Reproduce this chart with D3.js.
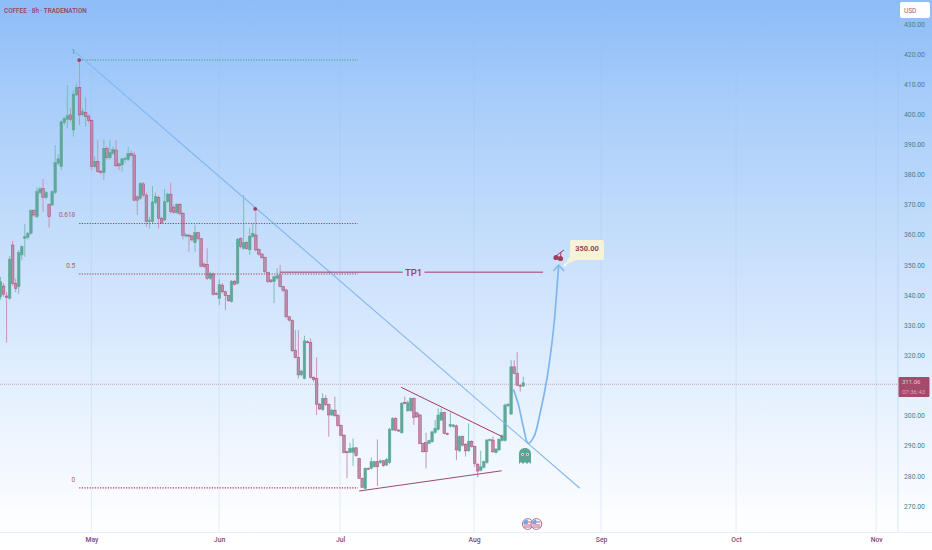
<!DOCTYPE html>
<html><head><meta charset="utf-8">
<script src="https://cdn.jsdelivr.net/npm/d3@7/dist/d3.min.js"></script>
<style>html,body{margin:0;padding:0;background:#fff}svg{display:block}text{font-family:Roboto,"Liberation Sans",sans-serif}</style>
</head><body><div id="chart"></div>
<script>
const opens=[
339.5,343,339.7,338.9,356.6,343.9,342.8,353.3,358.8,359.2,
360.5,368,366,374,375.4,372.4,370.1,369.9,374,383.7,
382.6,397.2,398.3,399.8,394.8,406.4,408.9,399.8,400.6,399.4,
397.9,382.6,384.4,381.1,380.6,388.7,385.6,387,388.1,383.5,
383.2,385,385,387,386.5,372.6,372.1,376.9,373.2,364.4,
364.4,370.7,372.4,365.5,364.9,371,373.5,369.1,367.3,370.1,
367.1,359.6,359.9,359.6,357.4,360.7,358.7,350.3,350.2,345.5,
347,340.5,338.9,343.3,341.1,339.8,337.8,344.6,343.9,358.8,
355.5,357.4,355,359.4,359.9,355.2,353.6,352.5,347.5,345,
344.5,345.6,346.7,342.8,341.7,332.8,331.5,321.7,319.3,313.5,
312.3,324.5,324.2,312.7,312.3,303.8,302,305.7,303.7,300.2,
301.8,300,296.8,293.5,288,287.8,287.8,289.3,285.8,279.2,
275.8,282.5,282.5,283,284.7,284.4,285,283.6,284.4,295.2,
299,295.2,294.3,304.4,301.6,301.6,305.7,300.9,300.2,290.8,
291,290.8,291.3,294.4,295.4,298.5,301,294.1,296.5,296.3,
296.6,288.3,293,290.5,288.3,291.5,289.7,283.9,281.9,282.8,
284.4,291.7,291.9,287.7,288.6,291.7,291.7,303.2,300.5,316.2,
314,310.1,309.8];
const closes=[
344.4,340.3,339.2,351.9,343.9,342.2,354.1,356.1,359.4,360.5,
368,366.6,374.3,375.2,372.4,374,366,374.3,384,385.2,
397.5,398.6,399.5,398.3,406.7,408.9,399.8,400.9,399.2,397.9,
382.6,384.4,381,380.8,388.7,385.6,387.3,388.3,382.9,382.9,
385.2,385.4,387,386.4,371.5,371.5,377.1,373.2,364.4,364.9,
370.9,372.7,365.5,364,371.1,373.5,367.7,367.5,370.1,367.1,
359.8,360,359.6,358.3,360.7,358.7,349.6,349.4,345.6,347.2,
340.2,340.2,343.5,341.1,339.8,338.1,344.6,343.6,358.5,356.1,
357.4,355.5,359.6,360.5,355,353.6,352.5,347.8,344.5,344.5,
346.1,346.4,342.8,341.5,332.8,331.7,321.5,319.3,313.5,314.8,
324.8,324.2,312.7,312,303.8,302.2,305.7,303.7,300.2,301.8,
300,296.8,293.5,287.8,287.8,289.1,289.3,286.7,279.2,276.2,
282.5,282.3,284.7,284.7,283,285,283.4,285.5,295.5,299,
295.2,294.9,304.1,304.1,304.3,305.7,299.4,299.6,290.8,288,
288,291.7,294.6,295.8,300.2,301,294.1,293.8,297.1,296.9,
288.6,293,290.2,288.3,291.5,289.7,284.1,281.6,283,284.7,
291.9,292.1,288,288.9,292.1,293.3,303.5,303.8,316.2,314,
310.1,309.8,310.9];
const highs=[
346,344,341,353,358,345.5,355,356.5,363.6,361,
368.5,368.5,375.8,376,378.5,374.5,370.5,374.8,389.8,386.7,
398,399,409.7,402,408,410.3,418,402,405.6,400,
398.3,386,391.5,381.5,391.7,389.5,391.5,389.3,391.5,384,
385.5,386,389.2,388,387.6,373,377.5,377.5,374,366,
376.2,374,373,366,375.2,374,377.4,370,370.5,370.5,
367.5,360.5,360.2,360,363.3,361,359,350.8,355.5,347.8,
347.5,341,345.2,344,341.5,340,345,345,359,359.2,
373.2,358,362.2,363.8,367.7,355.5,354,352.8,347.8,345.3,
346.5,348.9,350,343,342,333,332,328.4,328.4,315.2,
326.5,325,325.6,313,319.3,304.2,307.4,306.8,304,302.3,
306.3,300.5,297,293.8,288.3,291,292.4,289.6,286,279.5,
282.8,282.8,286.1,285,292.1,285.4,285.3,285.9,296,299.5,
299.5,295.5,304.5,306.3,305,306,306,301.3,300.6,291,
294.3,292,295,298.5,302.4,302.4,301.4,294.4,301,297.2,
297,293.4,293.4,290.8,297.4,291.8,290,284.2,288.3,285,
292.2,292.4,293,289.2,292.5,293.8,304,304.2,318.4,318.4,
321,310.4,312.9];
const lows=[
338.5,339.5,324.2,338.5,343,341,340.4,351.5,352.7,358.5,
360,366,365.5,373.5,367.7,371.8,362.4,369.5,373.5,383,
381.5,396.5,395.3,397.5,392.6,406,396.4,399.3,395.9,397,
381.5,382,380.5,380,378.2,385,385,386.5,382.5,381.5,
381,384,384.5,386,371,366.6,371.5,372.5,362.7,362.1,
363.9,370,362.1,363.5,364.5,370.5,367,367,367,366.5,
358.5,359,354.4,357.8,354.4,358.2,349.2,349,345,345,
339.8,340,336.7,340.5,335,337.8,337.5,343.2,343.5,355.5,
355,355,353.3,359,354.5,353,352,347.3,344,344,
337.3,345.2,342.5,341,332.3,331.2,321.2,319,312.3,313,
312,324,312.3,311.2,300.2,301.8,301.5,303.2,293,299.8,
299.5,296.3,293.2,287.5,279.2,287.5,283.3,286.3,279,276,
275.5,282,282.2,282.8,276.6,284,283,283.3,284,295,
294.8,294.5,294,303.8,301.2,301.3,296.9,299.2,290.5,287.7,
282.5,290.5,291,294,295,298.2,293.8,293.5,296,296,
285.2,288,289.8,286.4,288,289.4,283,279.5,281.5,282.5,
284,291.4,287.6,287.4,288.3,291.4,291.4,303,300.2,313.7,
309.8,307.9,309.5];

const priceTicks=[430,420,410,400,390,380,370,360,350,340,330,320,300,290,280,270];
const monthLabels=["May","Jun","Jul","Aug","Sep","Oct","Nov"];
const monthBars=[29.9,71.9,111.7,155.8,197.6,242,288.1];
const fibLevels=[1,0.618,0.5,0];
const fibLabels=["1","0.618","0.5","0"];
const fibHigh=418, fibLow=276, fibStartBar=25.9, fibEndBar=117.6;
const trendLine=[[23.5,421.6],[190.6,275.9]];
const triangleUpper=[[131.8,309.4],[165.1,293]];
const triangleLower=[[118,275],[164.9,281.7]];
const tp1Left=[[91.9,347.6],[132.3,347.6]];
const tp1Right=[[139.5,347.6],[178.5,347.6]];
const forecastCurve=[[168.7,308.7],[170.3,304],[172,296.3],[173.6,290.8],[175.5,293],[177.5,300.7],[179.7,311.8],[181.9,328.4],[183.6,349.6]];
const forecastArrow=[[181.9,348],[183.6,350],[185.4,348]];
const pivotDots=[[25.9,418],[83.8,368.6]];
const lastPrice=310.4;

const W=932,H=550,axisX=898,plotBottom=532.5;
const x=d3.scaleLinear().domain([0,172]).range([0.5,523.3]);
const y=d3.scaleLinear().domain([420,270]).range([54,506]);
const svg=d3.select("#chart").append("svg").attr("width",W).attr("height",H);

const grad=svg.append("defs").append("linearGradient").attr("id","bg").attr("x1",0).attr("y1",0).attr("x2",0).attr("y2",1);
[[0,"#8dbcf8"],[0.2,"#a9cefa"],[0.5,"#cbe1fc"],[0.75,"#e6f1fe"],[1,"#ffffff"]].forEach(s=>grad.append("stop").attr("offset",s[0]).attr("stop-color",s[1]));
svg.append("rect").attr("width",W).attr("height",plotBottom).attr("fill","url(#bg)");

// month grid
svg.append("g").selectAll("line").data(monthBars).join("line")
 .attr("x1",d=>x(d)).attr("x2",d=>x(d)).attr("y1",0).attr("y2",plotBottom)
 .attr("stroke","#9cc0ec").attr("stroke-opacity",.25).attr("stroke-width",1);
svg.append("line").attr("x1",axisX).attr("x2",axisX).attr("y1",0).attr("y2",plotBottom).attr("stroke","#9cc0ec").attr("stroke-opacity",.4);
svg.append("line").attr("x1",0).attr("x2",W).attr("y1",plotBottom).attr("y2",plotBottom).attr("stroke","#e8f0fa");

// axes
const xAxis=d3.axisBottom(x).tickValues(monthBars).tickFormat((d,i)=>monthLabels[i]).tickSize(0).tickPadding(5);
const gx=svg.append("g").attr("transform",`translate(0,${plotBottom})`).call(xAxis);
gx.select(".domain").remove();
gx.selectAll("text").attr("font-size",6.8).attr("font-weight",500).attr("fill","#7e4a72");
const yAxis=d3.axisRight(y).tickValues(priceTicks).tickFormat(d3.format(".2f")).tickSize(0).tickPadding(6);
const gy=svg.append("g").attr("transform",`translate(${axisX},0)`).call(yAxis);
gy.select(".domain").remove();
gy.selectAll("text").attr("font-size",6.8).attr("fill","#4a7f88");

// last price line
svg.append("line").attr("x1",0).attr("x2",axisX).attr("y1",y(lastPrice)).attr("y2",y(lastPrice))
 .attr("stroke","#a8708c").attr("stroke-opacity",.75).attr("stroke-width",.8).attr("stroke-dasharray","1 1");

// candles
const candles=d3.range(opens.length);
const g=svg.append("g");
g.selectAll("line.w").data(candles).join("line").attr("class","w")
 .attr("x1",i=>x(i)).attr("x2",i=>x(i)).attr("y1",i=>y(highs[i])).attr("y2",i=>y(lows[i]))
 .attr("stroke",i=>closes[i]>=opens[i]?"#7cbdb6":"#c795b4").attr("stroke-width",1);
g.selectAll("rect").data(candles).join("rect")
 .attr("x",i=>x(i)-1.3).attr("width",2.6)
 .attr("y",i=>y(Math.max(opens[i],closes[i])))
 .attr("height",i=>Math.max(1,Math.abs(y(opens[i])-y(closes[i]))))
 .attr("fill",i=>closes[i]>=opens[i]?"#5fa898":"#bd8dae")
 .attr("stroke",i=>closes[i]>=opens[i]?"#5fa898":"#aa4870").attr("stroke-width",.5);

const line=d3.line().x(d=>x(d[0])).y(d=>y(d[1]));

// fibonacci
fibLevels.forEach((lv,i)=>{
 const p=fibLow+(fibHigh-fibLow)*lv, yy=y(p);
 svg.append("line").attr("x1",x(fibStartBar)).attr("x2",x(fibEndBar)).attr("y1",yy).attr("y2",yy)
  .attr("stroke",lv===1?"#4f9c78":"#a83a62").attr("stroke-width",1.1).attr("stroke-dasharray","1.2 1.4");
 svg.append("text").attr("x",x(fibStartBar)-4).attr("y",yy-6).attr("text-anchor","end")
  .attr("font-size",6.5).attr("fill",lv===1?"#4f8a7c":"#a0607e").text(fibLabels[i]);
});

// lines
svg.append("path").attr("d",line(trendLine)).attr("fill","none").attr("stroke","#7fb6f0").attr("stroke-width",1.1);
svg.append("path").attr("d",line(triangleUpper)).attr("fill","none").attr("stroke","#a33a62").attr("stroke-width",1);
svg.append("path").attr("d",line(triangleLower)).attr("fill","none").attr("stroke","#a04a78").attr("stroke-width",1.1);
[tp1Left,tp1Right].forEach(s=>svg.append("path").attr("d",line(s)).attr("fill","none").attr("stroke","#a33a62").attr("stroke-width",1));
svg.append("text").attr("x",(x(tp1Left[1][0])+x(tp1Right[0][0]))/2).attr("y",y(347.6)+3.5).attr("text-anchor","middle")
 .attr("font-size",9.5).attr("font-weight",500).attr("fill","#a33a62").text("TP1");
svg.append("path").attr("d",line.curve(d3.curveCatmullRom)(forecastCurve)).attr("fill","none").attr("stroke","#7fb6f0").attr("stroke-width",1.7);
line.curve(d3.curveLinear);
svg.append("path").attr("d",line(forecastArrow)).attr("fill","none").attr("stroke","#7fb6f0").attr("stroke-width",1.4);

// pivots
svg.selectAll("circle.p").data(pivotDots).join("circle").attr("class","p")
 .attr("cx",d=>x(d[0])).attr("cy",d=>y(d[1])).attr("r",1.9).attr("fill","#a83a5c");

// cherry
const ch=svg.append("g").attr("fill","#a83a5c");
ch.append("circle").attr("cx",556).attr("cy",257.5).attr("r",2.6);
ch.append("circle").attr("cx",560.5).attr("cy",258.5).attr("r",2.6);
ch.append("path").attr("d","M556 256L561 252L564 250M560.5 257L561 252").attr("stroke","#a83a5c").attr("stroke-width",1).attr("fill","none");

// callout
svg.append("path").attr("d","M572 240H602a2 2 0 0 1 2 2V258a2 2 0 0 1-2 2H576L565 265L570 256V242a2 2 0 0 1 2-2Z").attr("fill","#f7f3d9");
svg.append("circle").attr("cx",565).attr("cy",265).attr("r",1.4).attr("fill","#ffffff");
svg.append("text").attr("x",587).attr("y",250.5).attr("text-anchor","middle").attr("font-size",7.5).attr("font-weight",700).attr("fill","#a33a62").text("350.00");

// ghost
const gh=svg.append("g").attr("transform","translate(519,448)");
gh.append("path").attr("d","M0 6C0 2 3 0 6 0S12 2 12 6V16L10 14L8 16L6 14L4 16L2 14L0 16Z").attr("fill","#5aa595");
[[3.5,6.5],[8.5,6.5]].forEach(e=>{gh.append("circle").attr("cx",e[0]).attr("cy",e[1]).attr("r",1.4).attr("fill","#f3e6ee");gh.append("circle").attr("cx",e[0]).attr("cy",e[1]).attr("r",.7).attr("fill","#a83a5c");});

// earnings icons
const fl=svg.append("g");
[[527.8,524],[536.4,524]].forEach(c=>{
 fl.append("circle").attr("cx",c[0]).attr("cy",c[1]).attr("r",5.4).attr("fill","#fff").attr("stroke","#b06f95").attr("stroke-width",1);
 [-2,1,3].forEach(o=>fl.append("line").attr("x1",c[0]-4).attr("x2",c[0]+4).attr("y1",c[1]+o).attr("y2",c[1]+o).attr("stroke","#b0506f").attr("stroke-width",.9));
 fl.append("path").attr("d",`M${c[0]-4.5} ${c[1]}a4.5 4.5 0 0 1 4.5-4.5V${c[1]}Z`).attr("fill","#6ea6ea");
});

// title
svg.append("text").attr("x",4).attr("y",12.5).attr("font-size",6.4).attr("font-weight",500).attr("fill","#a33a5c").text("COFFEE · 8h · TRADENATION");

// USD
svg.append("rect").attr("x",900).attr("y",2).attr("width",30).attr("height",16).attr("rx",2).attr("fill","#fff");
svg.append("text").attr("x",904).attr("y",13).attr("font-size",6.5).attr("fill","#9a5a88").text("USD");

// last price box
svg.append("rect").attr("x",898.5).attr("y",377).attr("width",31).attr("height",20).attr("rx",1).attr("fill","#a64a6c");
svg.append("text").attr("x",902).attr("y",384.2).attr("font-size",6).attr("fill","#dfcad6").text("311.06");
svg.append("text").attr("x",902).attr("y",393.8).attr("font-size",6).attr("fill","#cfa9bc").text("07:36:43");
</script></body></html>
